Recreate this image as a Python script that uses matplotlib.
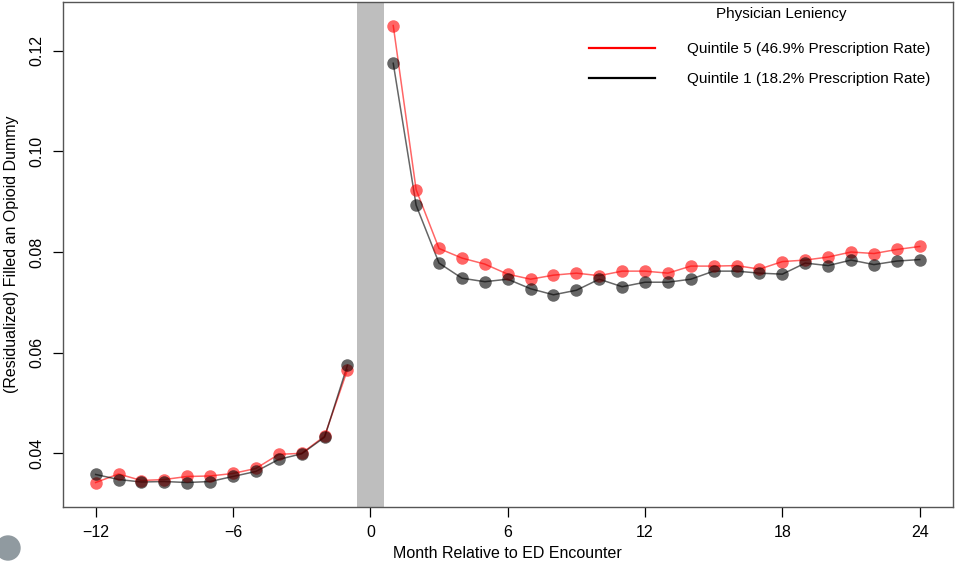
import numpy as np
import matplotlib.pyplot as plt
from matplotlib.patches import Circle

plt.rcParams['font.family'] = ['Liberation Sans', 'DejaVu Sans']

# months relative to the ED encounter
months_pre = [-12, -11, -10, -9, -8, -7, -6, -5, -4, -3, -2, -1]
months_post = list(range(1, 25))

# quintile 5 (lenient physicians)
q5_pre = [0.0342, 0.0359, 0.0346, 0.0348, 0.0354, 0.0355, 0.0360, 0.0370,
          0.0398, 0.0400, 0.0434, 0.0566]
q5_post = [0.1250, 0.0924, 0.0807, 0.0788, 0.0776, 0.0756, 0.0746, 0.0754,
           0.0758, 0.0753, 0.0762, 0.0762, 0.0758, 0.0772, 0.0772, 0.0773,
           0.0766, 0.0781, 0.0784, 0.0790, 0.0800, 0.0797, 0.0805, 0.0811]

# quintile 1 (strict physicians)
q1_pre = [0.0358, 0.0348, 0.0343, 0.0344, 0.0342, 0.0344, 0.0354, 0.0364,
          0.0388, 0.0399, 0.0432, 0.0575]
q1_post = [0.1175, 0.0893, 0.0778, 0.0748, 0.0741, 0.0746, 0.0727, 0.0715,
           0.0724, 0.0746, 0.0731, 0.0740, 0.0740, 0.0746, 0.0762, 0.0762,
           0.0758, 0.0756, 0.0778, 0.0773, 0.0784, 0.0775, 0.0782, 0.0785]

labels = ["Quintile 5 (46.9% Prescription Rate)",
          "Quintile 1 (18.2% Prescription Rate)"]
colors = ["red", "black"]

fig = plt.figure(figsize=(9.57, 5.63), dpi=100)
ax = fig.add_axes([0.0655, 0.0995, 0.93, 0.897])

ax.axvspan(-0.6, 0.6, color="#bebebe", lw=0, zorder=0)

series = [(q5_pre, q5_post), (q1_pre, q1_post)]
for (pre, post), c, lab in zip(series, colors, labels):
	for x, y in ((months_pre, pre), (months_post, post)):
		ax.plot(x, y, color=c, lw=1.1, alpha=0.6, zorder=2)
		ax.plot(x, y, ls="none", marker="o", ms=9, mec="none",
		        mfc=c, alpha=0.6, zorder=3)
	# legend handle only
	ax.plot([], [], color=c, lw=1.6, label=lab)

ax.set_xlim(-13.44, 25.44)
ax.set_ylim(0.02934, 0.12968)
ax.set_xticks(np.arange(-12, 25, 6))
ax.set_yticks([0.04, 0.06, 0.08, 0.10, 0.12])
ax.set_yticklabels(["0.04", "0.06", "0.08", "0.10", "0.12"], rotation=90, va="center")
ax.tick_params(direction="out", length=7, width=0.9, labelsize=11.5, pad=6)
for s in ax.spines.values():
	s.set_color("#555555")
	s.set_linewidth(1.0)

ax.set_xlabel("Month Relative to ED Encounter", fontsize=11.5, labelpad=4)
ax.set_ylabel("(Residualized) Filled an Opioid Dummy", fontsize=11.5, labelpad=8)

ax.text(0.807, 0.976, "Physician Leniency", transform=ax.transAxes,
        ha="center", va="center", fontsize=11)
ax.legend(loc="upper right", frameon=False, fontsize=11, handlelength=4.3,
          handletextpad=2.1, labelspacing=1.08, borderaxespad=0,
          bbox_to_anchor=(0.982, 0.933))

# grey corner artefact from the screenshot
fig.patches.append(Circle((0.08, 0.15), 0.12, transform=fig.dpi_scale_trans,
                          color="#909aa0", clip_on=False))

fig.savefig("out.png", dpi=100)
